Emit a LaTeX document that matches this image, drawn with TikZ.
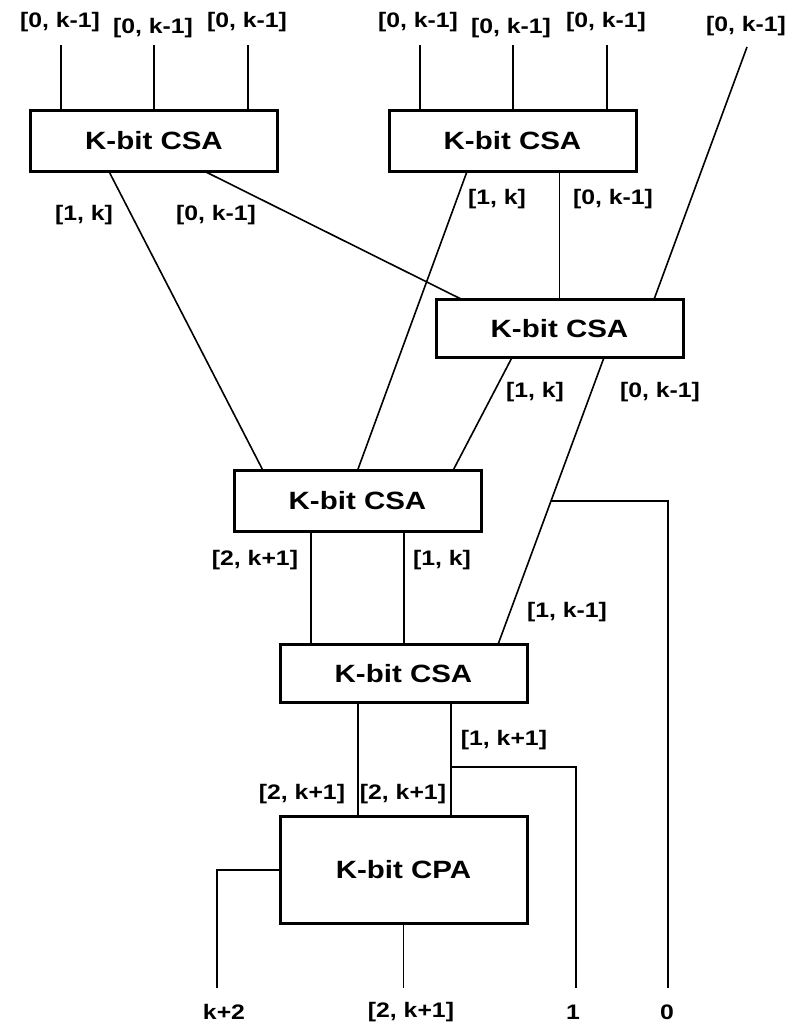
\documentclass[tikz,border=0pt]{standalone}
\usepackage{fontspec}
\setmainfont{Liberation Sans}[FakeStretch=1.18]
\usetikzlibrary{calc}
\begin{document}
\begin{tikzpicture}[x=1pt,y=-1pt,
  block/.style={draw, line width=3pt, minimum width=247pt, minimum height=61pt, inner sep=0pt, outer sep=0pt, font=\fontsize{25}{30}\selectfont\bfseries},
  wire/.style={line width=1.6pt},
  lbl/.style={font=\fontsize{21}{25}\selectfont\bfseries, inner sep=0pt}]
\useasboundingbox (0,0) rectangle (800,1026);
% blocks
\node[block] (b1) at (154,141) {K-bit CSA};
\node[block] (b2) at (512.5,141) {K-bit CSA};
\node[block, minimum height=58pt] (b3) at (559.5,328.5) {K-bit CSA};
\node[block] (b4) at (357.5,501) {K-bit CSA};
\node[block, minimum height=58pt] (b5) at (403.5,673.5) {K-bit CSA};
\node[block, minimum height=107pt] (b6) at (403.5,870) {K-bit CPA};
% top input labels
\node[lbl] (l1) at (60,22) {[0, k-1]};
\node[lbl] (l2) at (153,28) {[0, k-1]};
\node[lbl] (l3) at (247,22) {[0, k-1]};
\node[lbl] (l4) at (418,22) {[0, k-1]};
\node[lbl] (l5) at (511,28) {[0, k-1]};
\node[lbl] (l6) at (606,22) {[0, k-1]};
\node[lbl] (l7) at (746,26) {[0, k-1]};
% input coordinates
\coordinate (t1) at (61,45);
\coordinate (t2) at (154,45);
\coordinate (t3) at (248,45);
\coordinate (t4) at (420,45);
\coordinate (t5) at (513,45);
\coordinate (t6) at (607,45);
\coordinate (t7) at (747,47);
\draw[wire] (t1) -- (t1 |- b1.north);
\draw[wire] (t2) -- (t2 |- b1.north);
\draw[wire] (t3) -- (t3 |- b1.north);
\draw[wire] (t4) -- (t4 |- b2.north);
\draw[wire] (t5) -- (t5 |- b2.north);
\draw[wire] (t6) -- (t6 |- b2.north);
\draw[wire] (t7) -- ([xshift=94.5pt]b3.north);
% first level connections
\draw[wire] ([xshift=51pt]b1.south) -- ([xshift=-97.5pt]b3.north);
\draw[wire] ([xshift=-45pt]b1.south) -- ([xshift=-94.5pt]b4.north);
\draw[wire] ([xshift=-45.5pt]b2.south) -- (b4.north);
\draw[wire] (b3.north |- b2.south) -- (b3.north);
\node[lbl] (m1) at (84,215) {[1, k]};
\node[lbl] (m2) at (216,215) {[0, k-1]};
\node[lbl] (m3) at (497,199) {[1, k]};
\node[lbl] (m4) at (613,199) {[0, k-1]};
% from b3
\draw[wire] ([xshift=-47.5pt]b3.south) -- ([xshift=95.5pt]b4.north);
\coordinate (s3) at ([xshift=44.5pt]b3.south);
\coordinate (n5) at ([xshift=94.5pt]b5.north);
\draw[wire] (s3) -- (n5);
\coordinate (j0) at ($(s3)!0.5!(n5)$);
\coordinate (o0) at (668,988);
\draw[wire] (j0) -- (j0 -| o0) -- (o0);
\node[lbl] (m5) at (535,392) {[1, k]};
\node[lbl] (m6) at (660,392) {[0, k-1]};
\node[lbl] (m7) at (567,612) {[1, k-1]};
% from b4
\coordinate (s4a) at ([xshift=-46.5pt]b4.south);
\coordinate (s4b) at ([xshift=46.5pt]b4.south);
\draw[wire] (s4a) -- (s4a |- b5.north);
\draw[wire] (s4b) -- (s4b |- b5.north);
\node[lbl] (m8) at (255,560) {[2, k+1]};
\node[lbl] (m9) at (442,560) {[1, k]};
% from b5
\coordinate (s5a) at ([xshift=-45.5pt]b5.south);
\coordinate (s5b) at ([xshift=47.5pt]b5.south);
\draw[wire] (s5a) -- (s5a |- b6.north);
\draw[wire] (s5b) -- (s5b |- b6.north);
\coordinate (j1) at (s5b |- 0,767);
\coordinate (o1) at (576,988);
\draw[wire] (j1) -- (j1 -| o1) -- (o1);
\node[lbl] (m10) at (504,740) {[1, k+1]};
\node[lbl] (m11) at (302,794) {[2, k+1]};
\node[lbl] (m12) at (403,794) {[2, k+1]};
% outputs of CPA
\coordinate (o2) at (217,988);
\draw[wire] (b6.west) -- (b6.west -| o2) -- (o2);
\coordinate (o3) at (b6.south |- 0,988);
\draw[wire] (b6.south) -- (o3);
% bottom labels
\node[lbl] (q1) at (224,1012) {k+2};
\node[lbl] (q2) at (411,1012) {[2, k+1]};
\node[lbl] (q3) at (573,1012) {1};
\node[lbl] (q4) at (667,1012) {0};
\end{tikzpicture}
\end{document}
